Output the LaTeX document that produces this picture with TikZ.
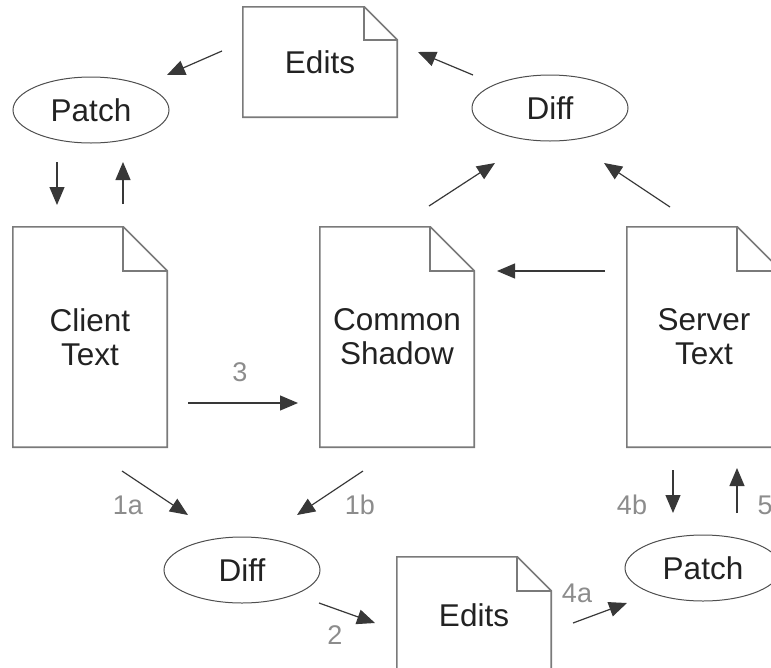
\documentclass[tikz,border=0pt]{standalone}
\usepackage{fontspec}
\setmainfont{Liberation Sans}
\usetikzlibrary{arrows.meta,shapes.geometric}

\definecolor{pageline}{HTML}{7A7A7A}
\definecolor{stepgray}{HTML}{8C8C8C}
\definecolor{inkdark}{HTML}{222222}

\tikzset{
  page/.style={minimum width=154pt, inner sep=0pt, align=center, text=inkdark, font=\fontsize{31.5}{34}\selectfont},
  op/.style={ellipse, draw=inkdark!80, line width=1pt, minimum width=156pt, minimum height=66pt, inner sep=0pt, text=inkdark, font=\fontsize{31.5}{34}\selectfont},
  flow/.style={line width=1.2pt, draw=inkdark!90, -{Triangle[length=18pt,width=15pt]}},
  steplabel/.style={text=stepgray, inner sep=0pt, font=\fontsize{27}{30}\selectfont}
}

% page outline with a folded corner: #1 node name, #2 fold size
\newcommand{\dogear}[2]{%
  \draw[pageline, line width=1.6pt] (#1.north west) -- ([xshift=-#2pt]#1.north east) -- ([yshift=-#2pt]#1.north east) -- (#1.south east) -- (#1.south west) -- cycle;
  \draw[pageline, line width=1.6pt] ([xshift=-#2pt]#1.north east) |- ([yshift=-#2pt]#1.north east);
}

\begin{document}
\begin{tikzpicture}[x=1pt,y=-1pt]
  \useasboundingbox (0,0) rectangle (771,667);
  \clip (0,0) rectangle (771,667);

  % the three texts
  \node[page, minimum height=220pt] (client) at (90,337) {Client\\Text};
  \node[page, minimum height=220pt] (shadow) at (397,337) {Common\\Shadow};
  \node[page, minimum height=220pt] (server) at (704,337) {Server\\Text};
  \dogear{client}{44}
  \dogear{shadow}{44}
  \dogear{server}{44}

  % the two edit lists, the lower one runs off the bottom
  \node[page, minimum height=110pt] (editsT) at (320,62) {Edits};
  \node[page, minimum height=116pt] (editsB) at (474,615) {Edits};
  \dogear{editsT}{33}
  \dogear{editsB}{34}

  % operations
  \node[op] (patchT) at (91,110) {Patch};
  \node[op] (diffT) at (550,108) {Diff};
  \node[op] (diffB) at (242,570) {Diff};
  \node[op] (patchB) at (703,568) {Patch};

  % arrow ends, they float between the shapes
  \coordinate (eT-out) at (222,51);   \coordinate (pT-in) at (167,75);
  \coordinate (dT-out) at (473,75);   \coordinate (eT-in) at (418,52);
  \coordinate (pT-dn) at (57,162);    \coordinate (cl-in) at (57,205);
  \coordinate (cl-up) at (123,204);   \coordinate (pT-up) at (123,162);
  \coordinate (sh-out) at (429,206);  \coordinate (dT-inL) at (495,163);
  \coordinate (sv-out) at (670,207);  \coordinate (dT-inR) at (604,163);
  \coordinate (sv-left) at (605,271); \coordinate (sh-in) at (497,271);
  \coordinate (cl-out) at (188,403);  \coordinate (sh-inL) at (298,403);
  \coordinate (cl-dn) at (122,471);   \coordinate (dB-inL) at (188,515);
  \coordinate (sh-dn) at (363,471);   \coordinate (dB-inR) at (297,515);
  \coordinate (dB-out) at (319,603);  \coordinate (eB-in) at (375,623);
  \coordinate (eB-out) at (573,623);  \coordinate (pB-in) at (627,603);
  \coordinate (sv-dn) at (673,470);   \coordinate (pB-top) at (673,513);
  \coordinate (pB-up) at (737,513);   \coordinate (sv-in) at (737,468);

  \draw[flow] (eT-out) -- (pT-in);
  \draw[flow] (dT-out) -- (eT-in);
  \draw[flow] (pT-dn) -- (cl-in);
  \draw[flow] (cl-up) -- (pT-up);
  \draw[flow] (sh-out) -- (dT-inL);
  \draw[flow] (sv-out) -- (dT-inR);
  \draw[flow] (sv-left) -- (sh-in);
  \draw[flow] (cl-out) -- (sh-inL);
  \draw[flow] (cl-dn) -- (dB-inL);
  \draw[flow] (sh-dn) -- (dB-inR);
  \draw[flow] (dB-out) -- (eB-in);
  \draw[flow] (eB-out) -- (pB-in);
  \draw[flow] (sv-dn) -- (pB-top);
  \draw[flow] (pB-up) -- (sv-in);

  % step numbers
  \node[steplabel] (s3) at (240,372) {3};
  \node[steplabel] (s1a) at (128,505) {1a};
  \node[steplabel] (s1b) at (360,505) {1b};
  \node[steplabel] (s2) at (335,635) {2};
  \node[steplabel] (s4a) at (577,593) {4a};
  \node[steplabel] (s4b) at (632,505) {4b};
  \node[steplabel] (s5) at (765,505) {5};
\end{tikzpicture}
\end{document}
